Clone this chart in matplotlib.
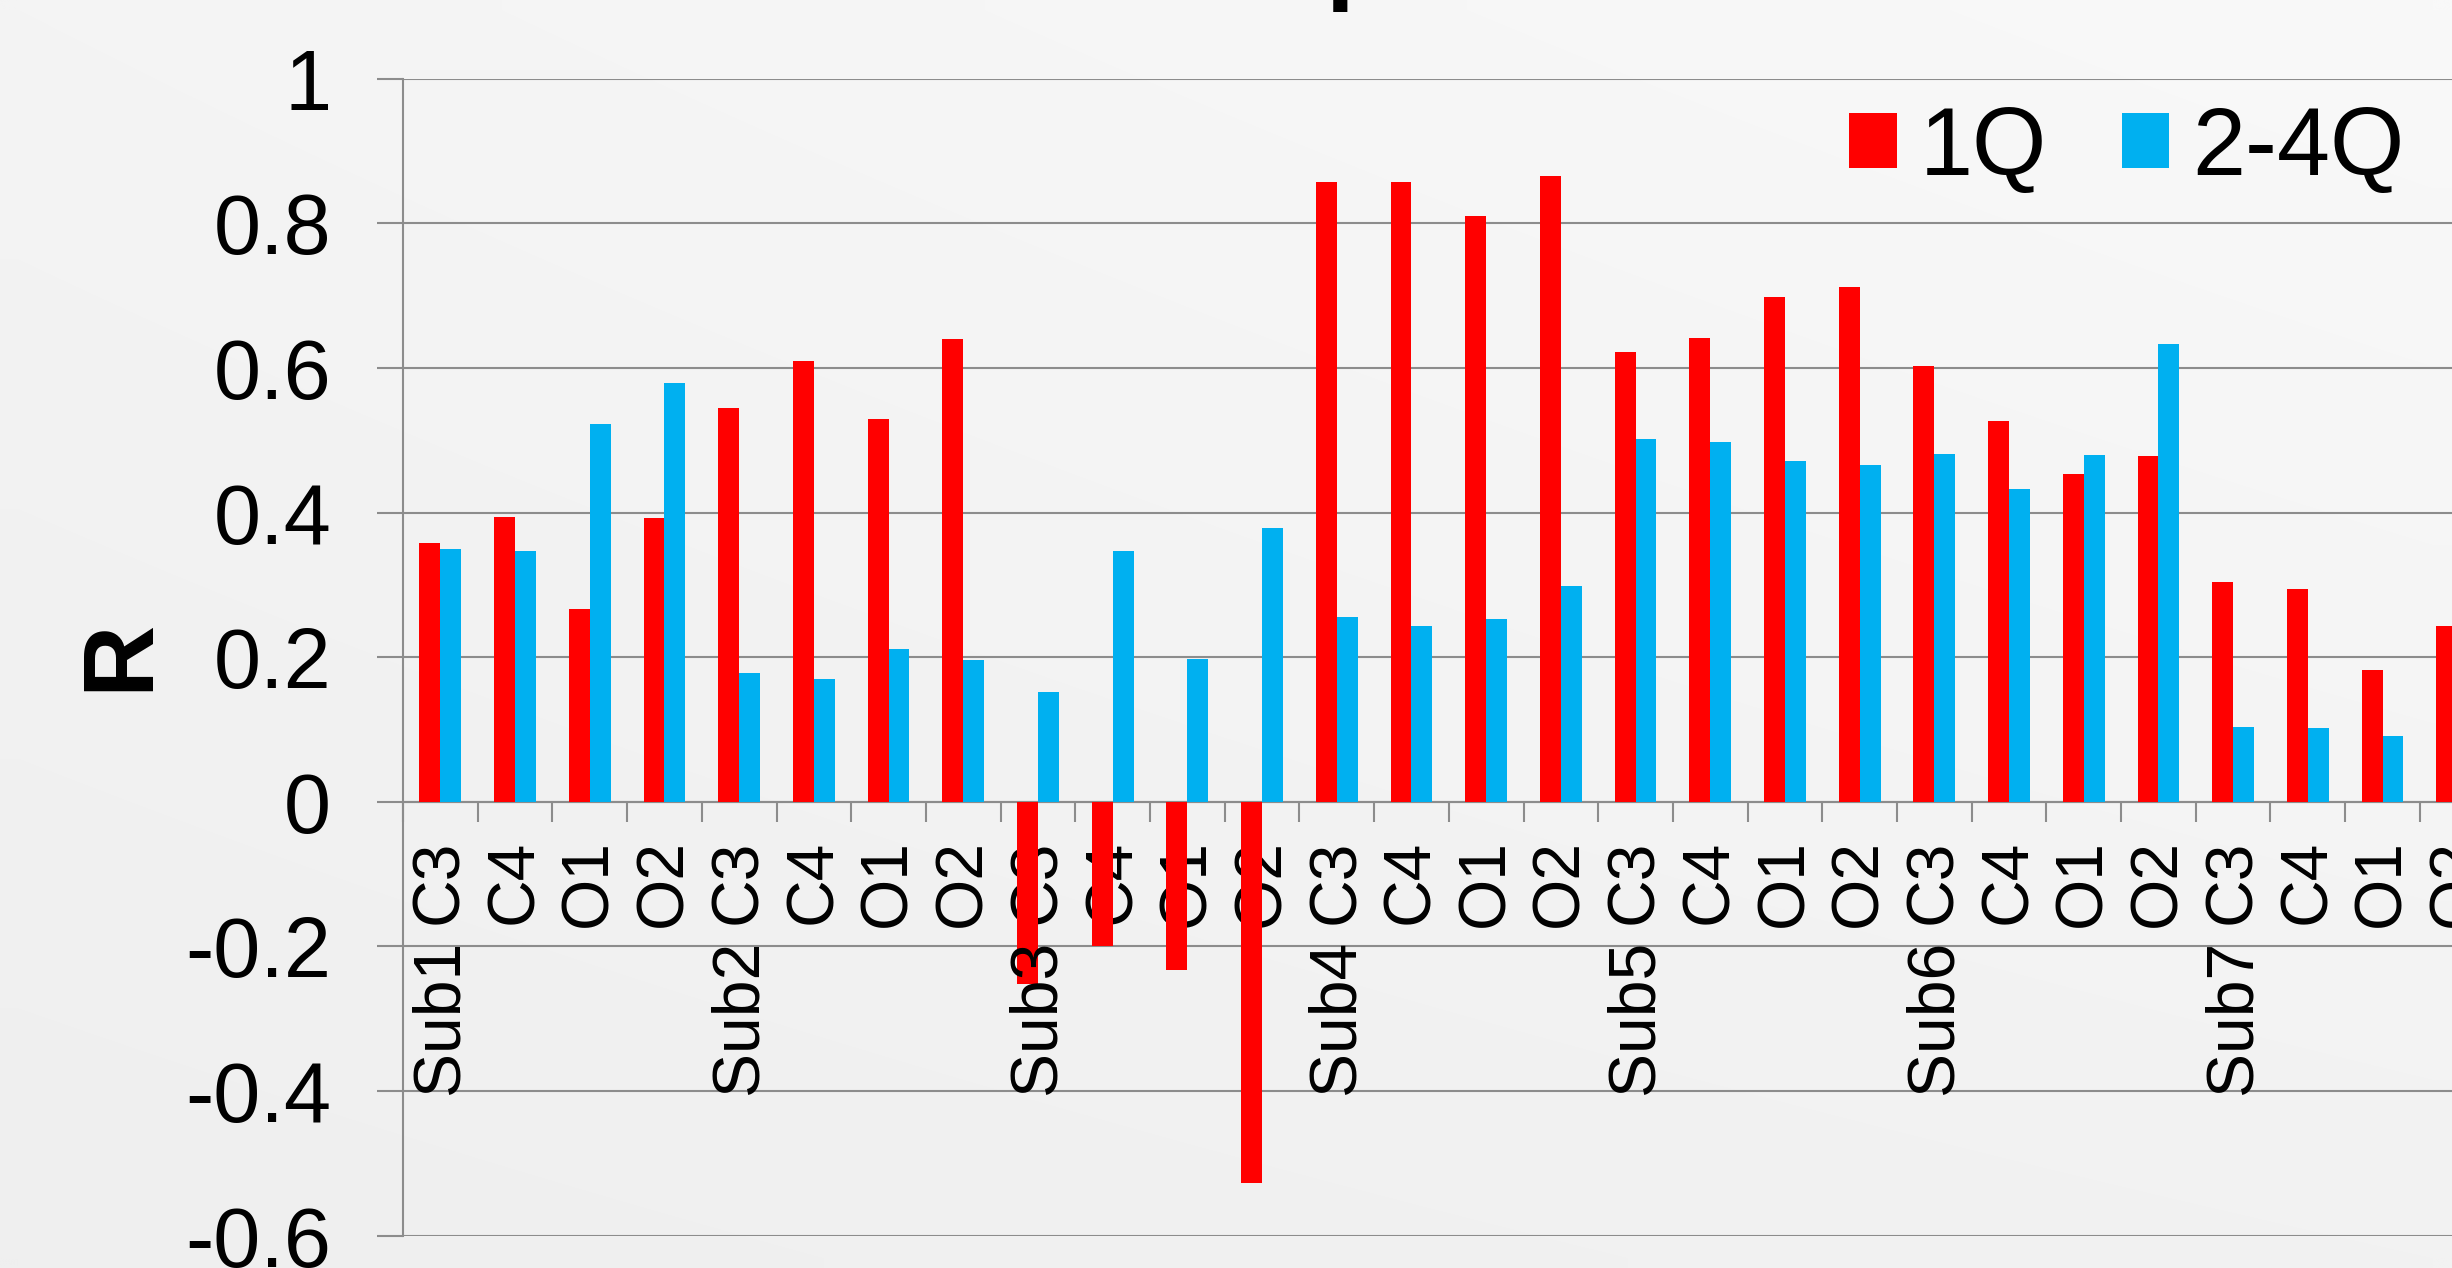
import numpy as np
import matplotlib
matplotlib.use("Agg")
import matplotlib.pyplot as plt
import matplotlib.transforms as mtransforms
from matplotlib.patches import Patch

# ---------------- data ----------------
groups = ["Sub1", "Sub2", "Sub3", "Sub4", "Sub5", "Sub6", "Sub7"]
channels = ["C3", "C4", "O1", "O2"]
series_names = ["1Q", "2-4Q"]
r_1q = [0.358, 0.394, 0.267, 0.393,
        0.545, 0.610, 0.529, 0.640,
        -0.252, -0.199, -0.232, -0.527,
        0.857, 0.858, 0.810, 0.865,
        0.622, 0.642, 0.698, 0.712,
        0.603, 0.527, 0.454, 0.478,
        0.304, 0.295, 0.182, 0.243]
r_24q = [0.350, 0.347, 0.522, 0.579,
         0.178, 0.170, 0.211, 0.196,
         0.152, 0.347, 0.198, 0.379,
         0.255, 0.243, 0.253, 0.299,
         0.502, 0.498, 0.471, 0.466,
         0.481, 0.433, 0.480, 0.633,
         0.103, 0.102, 0.091, 0.100]
y_ticks = [-0.6, -0.4, -0.2, 0, 0.2, 0.4, 0.6, 0.8, 1]
y_tick_labels = ["-0.6", "-0.4", "-0.2", "0", "0.2", "0.4", "0.6", "0.8", "1"]

# ---------------- style ----------------
W, H, DPI = 2452, 1268, 100
RED = "#ff0000"
BLUE = "#00b0f0"
GRID = "#8c8c8c"
plt.rcParams["font.family"] = ["Liberation Sans", "DejaVu Sans"]

fig = plt.figure(figsize=(W / DPI, H / DPI), dpi=DPI)

# background gradient
bg = fig.add_axes([0, 0, 1, 1], zorder=-10)
tl, tr, bl, br = 244, 249, 239, 242
u = np.linspace(0, 1, 64)[None, :]
v = np.linspace(0, 1, 64)[:, None]
top = tl + (tr - tl) * u
bot = bl + (br - bl) * u
img = top + (bot - top) * v
bg.imshow(np.dstack([img, img, img]) / 255.0, aspect="auto",
          extent=[0, 1, 0, 1], interpolation="bilinear")
bg.axis("off")

# main axes (extends past the right border, as in the cropped reference)
left_px, right_px = 403, 403 + 28 * 74.7
top_px, bot_px = 78.9, 1235.6
ax = fig.add_axes([left_px / W, 1 - bot_px / H,
                   (right_px - left_px) / W, (bot_px - top_px) / H])
ax.set_facecolor("none")

n = len(r_1q)
x = np.arange(n)
bw = 0.28
ax.bar(x - bw / 2, r_1q, width=bw, color=RED, zorder=3, label=series_names[0])
ax.bar(x + bw / 2, r_24q, width=bw, color=BLUE, zorder=3, label=series_names[1])

ax.set_xlim(-0.5, n - 0.5)
ax.set_ylim(-0.6, 1.0)
ax.set_yticks(y_ticks)
ax.set_yticklabels(y_tick_labels)
ax.yaxis.grid(True, color=GRID, linewidth=1.5, zorder=1)
ax.set_axisbelow(True)

for s in ["top", "right"]:
    ax.spines[s].set_visible(False)
ax.spines["left"].set_color(GRID)
ax.spines["left"].set_linewidth(1.5)
ax.spines["bottom"].set_position(("data", 0))
ax.spines["bottom"].set_color(GRID)
ax.spines["bottom"].set_linewidth(1.5)

ax.tick_params(axis="y", length=18.7, width=1.5, color=GRID, direction="out",
               labelsize=61, pad=33)

# category boundaries as major ticks, inner labels as minor ticks
ax.set_xticks(np.arange(-0.5, n, 1.0))
ax.set_xticklabels([])
ax.set_xticks(x, minor=True)
ax.set_xticklabels([channels[i % 4] for i in range(n)], minor=True, rotation=90)
ax.tick_params(axis="x", which="major", length=14.4, width=1.5, color=GRID,
               direction="out")
ax.tick_params(axis="x", which="minor", length=0, labelsize=47.5, pad=27)

# outer (group) labels
trans = mtransforms.blended_transform_factory(ax.transData, fig.transFigure)
for gi, g in enumerate(groups):
    ax.text(gi * 4, 1 - 940 / H, g, rotation=90, ha="center", va="top",
            fontsize=47.5, transform=trans, clip_on=False)

# y label
fig.text(121 / W, 1 - 655 / H, "R", rotation=90, ha="center", va="center",
         fontsize=72, fontweight="bold")

# legend
handles = [Patch(facecolor=RED, edgecolor="none"),
           Patch(facecolor=BLUE, edgecolor="none")]
fig.legend(handles, series_names, loc="center left",
           bbox_to_anchor=(1849 / W, 1 - 149.6 / H), ncol=2, frameon=False,
           fontsize=68.8, handlelength=0.5, handleheight=0.5,
           handletextpad=0.24, columnspacing=0.78, borderpad=0, borderaxespad=0)

# title fragment visible at the top border
fig.text(1325 / W, 1 + 10.3 / H, "p", fontsize=75, fontweight="bold",
         ha="left", va="baseline")

fig.savefig("out.png", dpi=DPI)
